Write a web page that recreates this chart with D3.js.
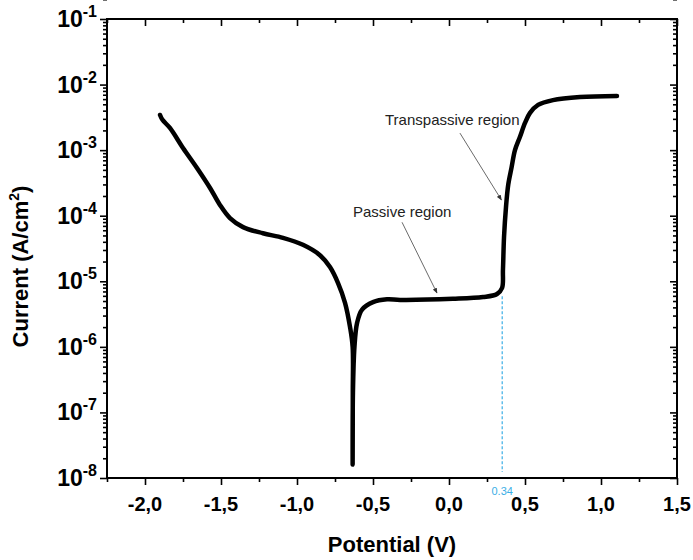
<!DOCTYPE html>
<html>
<head>
<meta charset="utf-8">
<script src="https://cdn.jsdelivr.net/npm/d3@7"></script>
<style>
  body { margin: 0; background: #fff; }
  svg text { font-family: "Liberation Sans", Arial, sans-serif; }
</style>
</head>
<body>
<div id="chart"></div>
<script>
// polarisation curve
const potential = [-1.901, -1.885, -1.836, -1.750, -1.658, -1.572, -1.507, -1.441, -1.355, -1.224, -1.092, -0.961, -0.849, -0.783, -0.730, -0.684, -0.651, -0.634, -0.633, -0.634,
                   -0.632, -0.622, -0.605, -0.572, -0.500, -0.408, -0.322, 0.026, 0.224, 0.316, 0.349, 0.355, 0.362, 0.375, 0.390, 0.412, 0.434, 0.467, 0.500, 0.533, 0.586, 0.684, 0.862, 1.105];
const current = [3.44e-3, 2.9e-3, 2.18e-3, 1.08e-3, 5.35e-4, 2.65e-4, 1.46e-4, 9.2e-5, 6.7e-5, 5.4e-5, 4.6e-5, 3.6e-5, 2.5e-5, 1.65e-5, 9.4e-6, 4.7e-6, 2.0e-6, 1.0e-6, 2.0e-7, 1.6e-8,
                 2.0e-7, 1.0e-6, 2.3e-6, 3.7e-6, 4.8e-6, 5.3e-6, 5.2e-6, 5.4e-6, 5.75e-6, 6.4e-6, 7.9e-6, 1.5e-5, 4.7e-5, 1.36e-4, 3.0e-4, 5.5e-4, 1.0e-3, 1.6e-3, 2.6e-3, 3.7e-3, 4.9e-3, 5.8e-3, 6.45e-3, 6.7e-3];

const xTicks = [-2.0, -1.5, -1.0, -0.5, 0.0, 0.5, 1.0, 1.5];
const xMinor = [-2.25, -1.75, -1.25, -0.75, -0.25, 0.25, 0.75, 1.25];
const yExp = [-1, -2, -3, -4, -5, -6, -7, -8];

const markerV = 0.35, markerLabel = '0.34', markerTop = 5.9e-6;
// label position (px) and arrow start / end as [potential, log10 current]
const notes = [
  {text: 'Transpassive region', tx: 385, ty: 125, from: [0.072, -2.74], to: [0.345, -3.76]},
  {text: 'Passive region', tx: 353, ty: 217, from: [-0.309, -4.10], to: [-0.079, -5.18]}
];

const W = 693, H = 560;
const margin = {t: 19, r: 16, b: 82, l: 107};
const width = W - margin.l - margin.r;
const height = H - margin.t - margin.b;

const svg = d3.select('#chart').append('svg').attr('width', W).attr('height', H);
const g = svg.append('g').attr('transform', `translate(${margin.l},${margin.t})`);

const x = d3.scaleLinear([-2.25, 1.5], [0, width]);
const y = d3.scaleLog([1e-8, 1e-1], [height, 0]);

const decades = yExp.map(e => Math.pow(10, e));
const yMinor = [];
yExp.forEach(e => { if (e > -1) return; for (let k = 2; k <= 9; k++) yMinor.push(k * Math.pow(10, e)); });

function ticks(sel) { sel.select('.domain').remove(); sel.selectAll('.tick line').attr('stroke', '#000').attr('stroke-width', 1.6); }

// bottom / top
g.append('g').attr('transform', `translate(0,${height})`)
  .call(d3.axisBottom(x).tickValues(xTicks).tickSize(7).tickFormat('')).call(ticks);
g.append('g').attr('transform', `translate(0,${height})`)
  .call(d3.axisBottom(x).tickValues(xMinor).tickSize(4).tickFormat('')).call(ticks);
g.append('g').call(d3.axisBottom(x).tickValues(xTicks).tickSize(7).tickFormat('')).call(ticks);
g.append('g').call(d3.axisBottom(x).tickValues(xMinor).tickSize(4).tickFormat('')).call(ticks);
// left / right
g.append('g').call(d3.axisLeft(y).tickValues(decades).tickSize(7).tickFormat('')).call(ticks);
g.append('g').call(d3.axisLeft(y).tickValues(yMinor).tickSize(4).tickFormat('')).call(ticks);
g.append('g').attr('transform', `translate(${width},0)`)
  .call(d3.axisLeft(y).tickValues(decades).tickSize(7).tickFormat('')).call(ticks);
g.append('g').attr('transform', `translate(${width},0)`)
  .call(d3.axisLeft(y).tickValues(yMinor).tickSize(4).tickFormat('')).call(ticks);

g.append('rect').attr('width', width).attr('height', height)
  .attr('fill', 'none').attr('stroke', '#000').attr('stroke-width', 2);

// tick labels
g.selectAll('.xlab').data(xTicks).join('text')
  .attr('x', d => x(d)).attr('y', height + 33)
  .attr('text-anchor', 'middle').attr('font-size', 20).attr('font-weight', 'bold')
  .text(d => d3.format('.1f')(d).replace('.', ',').replace('−', '-'));

const ylab = g.selectAll('.ylab').data(yExp).join('text')
  .attr('x', -10).attr('y', d => y(Math.pow(10, d)) + 8)
  .attr('text-anchor', 'end').attr('font-size', 23).attr('font-weight', 'bold');
ylab.append('tspan').text('10');
ylab.append('tspan').attr('dy', -10).attr('font-size', 16).text(d => '-' + Math.abs(d));

// axis titles
g.append('text').attr('x', width / 2).attr('y', height + 74)
  .attr('text-anchor', 'middle').attr('font-size', 22).attr('font-weight', 'bold').text('Potential (V)');
const yt = svg.append('text').attr('transform', `translate(28,${margin.t + height / 2 + 18}) rotate(-90)`)
  .attr('text-anchor', 'middle').attr('font-size', 22).attr('font-weight', 'bold');
yt.append('tspan').text('Current (A/cm');
yt.append('tspan').attr('dy', -9).attr('font-size', 14).text('2');
yt.append('tspan').attr('dy', 9).text(')');

// marker line at 0.34 V
g.append('line')
  .attr('x1', x(markerV)).attr('x2', x(markerV))
  .attr('y1', y(markerTop)).attr('y2', height - 6)
  .attr('stroke', '#3aaee6').attr('stroke-width', 1.2).attr('stroke-dasharray', '3 2');
g.append('text').attr('x', x(markerV)).attr('y', height + 17)
  .attr('text-anchor', 'middle').attr('font-size', 11).attr('fill', '#3aaee6').text(markerLabel);

// curve
const pts = potential.map((v, i) => [v, current[i]]);
const line = d3.line().x(d => x(d[0])).y(d => y(d[1])).curve(d3.curveCatmullRom.alpha(0.5));
g.append('path').attr('d', line(pts))
  .attr('fill', 'none').attr('stroke', '#000').attr('stroke-width', 4.5)
  .attr('stroke-linejoin', 'round').attr('stroke-linecap', 'round');

// annotations
svg.append('defs').append('marker').attr('id', 'arr')
  .attr('viewBox', '0 0 10 10').attr('refX', 9).attr('refY', 5)
  .attr('markerWidth', 7).attr('markerHeight', 7).attr('orient', 'auto')
  .append('path').attr('d', 'M0,1 L10,5 L0,9 z').attr('fill', '#333');

notes.forEach(n => {
  svg.append('text').attr('x', n.tx).attr('y', n.ty)
    .attr('font-size', 15).attr('fill', '#222').text(n.text);
  g.append('line')
    .attr('x1', x(n.from[0])).attr('y1', y(Math.pow(10, n.from[1])))
    .attr('x2', x(n.to[0])).attr('y2', y(Math.pow(10, n.to[1])))
    .attr('stroke', '#444').attr('stroke-width', 0.8).attr('marker-end', 'url(#arr)');
});
</script>
</body>
</html>
